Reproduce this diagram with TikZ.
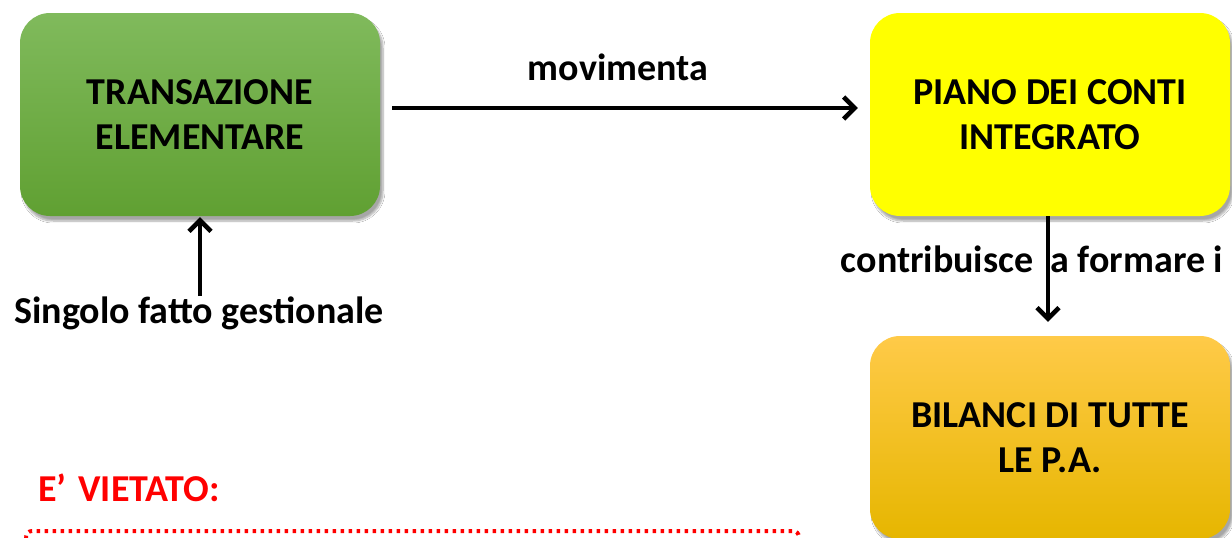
\documentclass[tikz,border=0pt]{standalone}
\usepackage{fontspec}
\setmainfont{Carlito}
\usetikzlibrary{arrows.meta,shadows.blur}

\definecolor{greentop}{RGB}{128,186,92}
\definecolor{greenbot}{RGB}{96,160,50}
\definecolor{boxyellow}{RGB}{255,255,0}
\definecolor{orangetop}{RGB}{255,202,72}
\definecolor{orangemid}{RGB}{255,192,0}
\definecolor{orangebot}{RGB}{230,182,0}
\definecolor{alertred}{RGB}{255,0,0}

\tikzset{
  box/.style={rectangle, rounded corners=30pt, minimum width=360pt, minimum height=203pt,
    align=center, font=\fontsize{38}{45}\selectfont\bfseries,
    blur shadow={shadow xshift=3pt, shadow yshift=-5pt, shadow opacity=35, shadow blur steps=8}},
  label/.style={font=\fontsize{38}{45}\selectfont\bfseries, inner sep=0pt},
  arr/.style={line width=4.5pt, -{Straight Barb[length=11pt,width=22pt,line width=4.5pt]}},
}

\begin{document}
\begin{tikzpicture}[x=1pt,y=-1pt]
  \clip (0,0) rectangle (1232,538);
  \fill[white] (0,0) rectangle (1232,538);

  % boxes
  \node[box, top color=greentop, bottom color=greenbot] (trans) at (200,114.5)
    {TRANSAZIONE\\ELEMENTARE};
  \node[box, fill=boxyellow] (piano) at (1050,114.5)
    {PIANO DEI CONTI\\INTEGRATO};
  \node[box, shading=axis, shading angle=180,
        top color=orangetop, middle color=orangemid, bottom color=orangebot] (bilanci) at (1050,437.5)
    {BILANCI DI TUTTE\\LE P.A.};

  % texts
  \node[label, anchor=base] (sing) at (199,323) {Singolo fatto gestionale};
  \node[label, anchor=base] (mov) at (618,80) {movimenta};

  % connectors
  \draw[arr] ([xshift=12pt,yshift=6.5pt]trans.east) -- ([xshift=-12pt,yshift=6.5pt]piano.west);
  \draw[arr] (trans.south |- sing.north) -- ([yshift=-1pt]trans.south);
  \draw[arr] ([xshift=-2pt]piano.south) -- ([xshift=-2pt,yshift=14pt]bilanci.north);

  \node[label, anchor=base] (contr) at (1032,272) {contribuisce\ \ a formare i};

  % warning heading and dotted frame
  \node[label, anchor=base west, text=alertred] (viet) at (38,501) {E’\hspace{12pt}VIETATO:};
  \draw[alertred, line width=4pt, dash pattern=on 3.5pt off 4.5pt, rounded corners=6pt]
    (26,531) rectangle (799,620);
\end{tikzpicture}
\end{document}
